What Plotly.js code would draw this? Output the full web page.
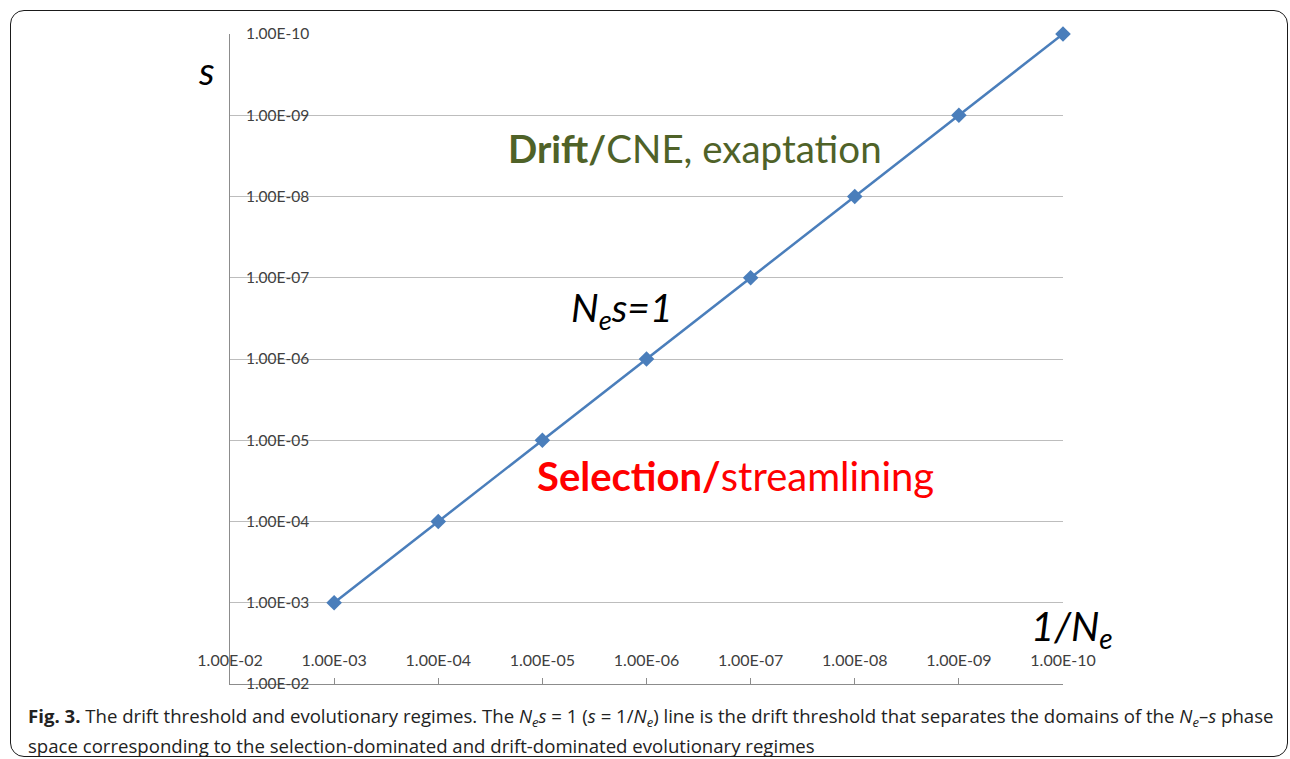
<!DOCTYPE html>
<html>
<head>
<meta charset="utf-8">
<script src="https://cdn.plot.ly/plotly-3.0.1.min.js"></script>
<style>
  html, body { margin: 0; padding: 0; background: #ffffff; }
  #wrap { position: relative; width: 1290px; height: 759px; overflow: hidden; }
  #chart { position: absolute; left: 0; top: 0; width: 1290px; height: 759px; }
  #frame { position: absolute; left: 10px; top: 10px; width: 1278px; height: 747px;
           box-sizing: border-box; border: 1.6px solid #1a1a1a; border-radius: 14px;
           pointer-events: none; }
</style>
</head>
<body>
<div id="wrap">
  <div id="chart"></div>
  <div id="frame"></div>
</div>
<script>
// ---- data ----
const invNe = [1e-3, 1e-4, 1e-5, 1e-6, 1e-7, 1e-8, 1e-9, 1e-10];
const sVals = [1e-3, 1e-4, 1e-5, 1e-6, 1e-7, 1e-8, 1e-9, 1e-10];
const tickVals = [1e-2, 1e-3, 1e-4, 1e-5, 1e-6, 1e-7, 1e-8, 1e-9, 1e-10];
const tickText = ['1.00E-02', '1.00E-03', '1.00E-04', '1.00E-05', '1.00E-06',
                  '1.00E-07', '1.00E-08', '1.00E-09', '1.00E-10'];

// ---- layout helpers (pixel -> paper) ----
const W = 1290, H = 759;
const M = { l: 230, r: 227, t: 34, b: 75 };
const pw = W - M.l - M.r, ph = H - M.t - M.b;
const px = x => (x - M.l) / pw;
const py = y => (H - M.b - y) / ph;

const trace = {
  x: invNe, y: sVals, type: 'scatter', mode: 'lines+markers',
  line: { color: '#4A7EBB', width: 2.5 },
  marker: { symbol: 'diamond', size: 12, color: '#4A7EBB' },
  cliponaxis: false,
  hoverinfo: 'skip'
};

const capFont = { family: 'Open Sans, sans-serif', size: 18.6, color: '#222222' };

const layout = {
  width: W, height: H,
  margin: { l: M.l, r: M.r, t: M.t, b: M.b, pad: 0 },
  paper_bgcolor: 'rgba(0,0,0,0)', plot_bgcolor: 'rgba(0,0,0,0)',
  showlegend: false,
  font: { family: 'Lato, sans-serif', color: '#404040' },
  xaxis: {
    type: 'log', range: [-2, -10],
    tickvals: tickVals, ticktext: tickText,
    ticks: 'inside', ticklen: 6, tickcolor: '#8c8c8c', tickwidth: 1,
    showline: true, linecolor: '#8c8c8c', linewidth: 1,
    showgrid: false, zeroline: false,
    ticklabelposition: 'inside', ticklabeloverflow: 'allow', ticklabelstandoff: 9,
    tickfont: { size: 16, color: '#404040', family: 'Lato, sans-serif' }
  },
  yaxis: {
    type: 'log', range: [-2, -10],
    tickvals: tickVals, ticktext: tickText,
    ticks: '', showline: true, linecolor: '#8c8c8c', linewidth: 1,
    showgrid: true, gridcolor: '#BDBDBD', gridwidth: 1, zeroline: false,
    ticklabelposition: 'inside', ticklabeloverflow: 'allow', ticklabelstandoff: 16,
    tickfont: { size: 15.5, color: '#404040', family: 'Lato, sans-serif' }
  },
  annotations: [
    { xref: 'paper', yref: 'paper', x: px(695), y: py(148), xanchor: 'center', yanchor: 'middle', showarrow: false,
      text: '<b>Drift/</b>CNE, exaptation', font: { family: 'Lato, sans-serif', size: 38.5, color: '#4F6228' } },
    { xref: 'paper', yref: 'paper', x: px(735), y: py(476), xanchor: 'center', yanchor: 'middle', showarrow: false,
      text: '<b>Selection/</b>streamlining', font: { family: 'Lato, sans-serif', size: 40, color: '#FF0000' } },
    { xref: 'paper', yref: 'paper', x: px(622), y: py(310), xanchor: 'center', yanchor: 'middle', showarrow: false,
      text: '<i>N<sub>e</sub>s=1</i>', font: { family: 'Lato, sans-serif', size: 39, color: '#000000' } },
    { xref: 'paper', yref: 'paper', x: px(206), y: py(70), xanchor: 'center', yanchor: 'middle', showarrow: false,
      text: '<i>s</i>', font: { family: 'Lato, sans-serif', size: 39, color: '#000000' } },
    { xref: 'paper', yref: 'paper', x: px(1072), y: py(628), xanchor: 'center', yanchor: 'middle', showarrow: false,
      text: '<i>1/N<sub>e</sub></i>', font: { family: 'Lato, sans-serif', size: 40, color: '#000000' } },
    { xref: 'paper', yref: 'paper', x: px(26), y: py(717), xanchor: 'left', yanchor: 'middle', showarrow: false, align: 'left',
      text: '<b>Fig. 3.</b> The drift threshold and evolutionary regimes. The <i>N<sub>e</sub>s</i> = 1 (<i>s</i> = 1/<i>N<sub>e</sub></i>) line is the drift threshold that separates the domains of the <i>N<sub>e</sub></i>–<i>s</i> phase',
      font: capFont },
    { xref: 'paper', yref: 'paper', x: px(26), y: py(745), xanchor: 'left', yanchor: 'middle', showarrow: false, align: 'left',
      text: 'space corresponding to the selection-dominated and drift-dominated evolutionary regimes',
      font: capFont }
  ]
};

Plotly.newPlot('chart', [trace], layout, { staticPlot: true, displayModeBar: false });
</script>
</body>
</html>
